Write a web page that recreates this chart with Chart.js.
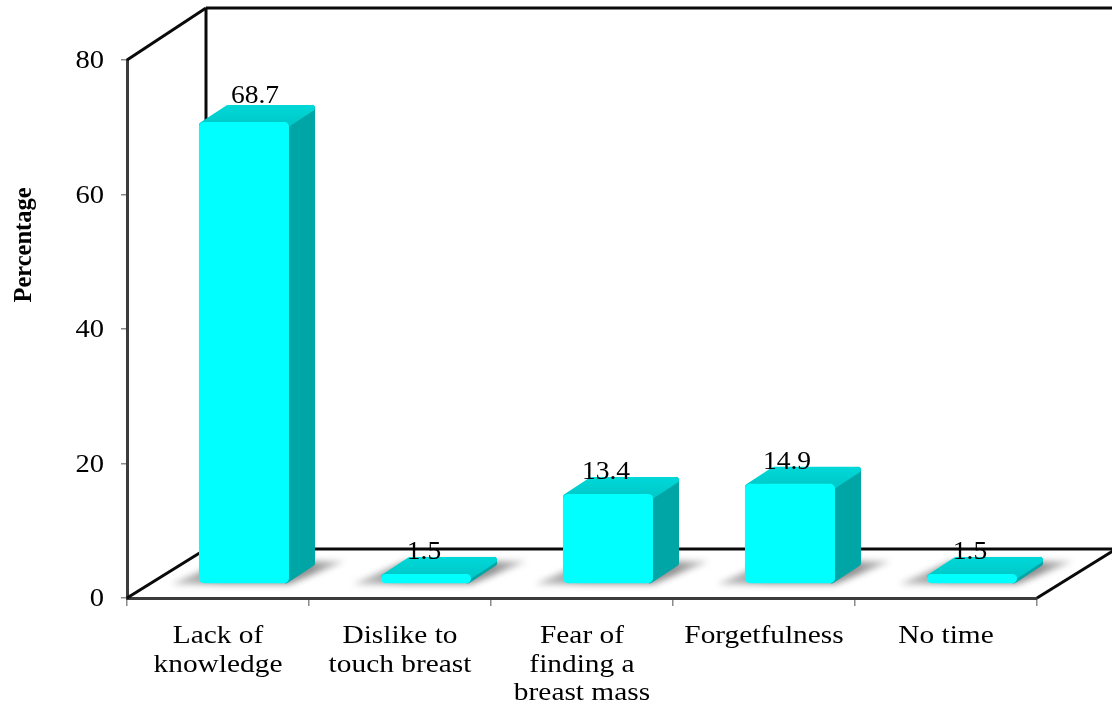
<!DOCTYPE html>
<html>
<head>
<meta charset="utf-8">
<title>Percentage by reason</title>
<script src="https://cdn.jsdelivr.net/npm/chart.js@4"></script>
<style>
  html, body { margin: 0; background: #fff; }
  canvas { display: block; }
</style>
</head>
<body>
<canvas id="chart" width="1112" height="704"></canvas>
<script>
const categories = [
  ["Lack of", "knowledge"],
  ["Dislike to", "touch breast"],
  ["Fear of", "finding a", "breast mass"],
  ["Forgetfulness"],
  ["No time"],
];
const percentages = [68.7, 1.5, 13.4, 14.9, 1.5];
const yTicks = [0, 20, 40, 60, 80];
const yTitle = "Percentage";

const FONT = '"Liberation Serif", serif';
const TEXT_STRETCH = 1.13; // text runs a little wide in this chart
// value labels sit slightly off centre
const LABEL_SHIFT_X = [11, -2, -2, -3, -2];
const LABEL_SHIFT_Y = [-4, 0, 0, 0, 0];

// box depth of the 3D room and of the bars
const WALL_DX = 79;
const WALL_DY_TOP = 52;
const WALL_DY_FLOOR = 49;
const BAR_DX = 26;
const BAR_DY = 17;
// bars stand on the floor, in front of the back wall
const BAR_OFFSET_X = 26;
const BAR_OFFSET_Y = -14;

function wideText(ctx, text, x, y, align, stretch = TEXT_STRETCH) {
  ctx.save();
  ctx.translate(x, y);
  ctx.scale(stretch, 1);
  ctx.textAlign = align;
  ctx.fillText(text, 0, 0);
  ctx.restore();
}

function line(ctx, x1, y1, x2, y2) {
  ctx.beginPath();
  ctx.moveTo(x1, y1);
  ctx.lineTo(x2, y2);
  ctx.stroke();
}

function poly(ctx, pts) {
  ctx.beginPath();
  pts.forEach((p, i) => (i ? ctx.lineTo(p[0], p[1]) : ctx.moveTo(p[0], p[1])));
  ctx.closePath();
}

const roomPlugin = {
  id: "room",
  beforeDatasetsDraw(chart) {
    const { ctx, chartArea: a } = chart;
    const backX = a.left + WALL_DX;
    const backTop = a.top - WALL_DY_TOP;
    const backFloor = a.bottom - WALL_DY_FLOOR;

    ctx.save();
    ctx.strokeStyle = "#0a0a0a";
    ctx.lineWidth = 3;
    line(ctx, a.left, a.top, backX, backTop);
    line(ctx, backX, backTop, a.right + WALL_DX, backTop);
    line(ctx, backX, backTop, backX, backFloor);
    line(ctx, backX, backFloor, a.right + WALL_DX, backFloor);
    line(ctx, a.left, a.bottom, backX, backFloor);
    line(ctx, a.right, a.bottom, a.right + WALL_DX, backFloor);
    ctx.restore();
  },
};

const bar3dPlugin = {
  id: "bar3d",
  beforeDatasetsDraw(chart) {
    const { ctx } = chart;
    const bars = chart.getDatasetMeta(0).data;

    ctx.save();
    ctx.translate(BAR_OFFSET_X, BAR_OFFSET_Y);

    // floor shadows, darkest next to the bar
    ctx.save();
    ctx.filter = "blur(3px)";
    bars.forEach((bar) => {
      const x0 = bar.x - bar.width / 2;
      const x1 = bar.x + bar.width / 2;
      const grad = ctx.createLinearGradient(x0 - 28, 0, x1 + 56, 0);
      grad.addColorStop(0, "#c8c8c8");
      grad.addColorStop(0.3, "#929292");
      grad.addColorStop(0.8, "#929292");
      grad.addColorStop(1, "#d0d0d0");
      ctx.fillStyle = grad;
      poly(ctx, [
        [x0 - 28, bar.base + 1],
        [x1, bar.base + 1],
        [x1 + 56, bar.base - 22],
        [x0 + 24, bar.base - 22],
      ]);
      ctx.fill();
    });
    ctx.restore();

    ctx.lineJoin = "round";
    ctx.lineWidth = 6;
    bars.forEach((bar) => {
      const x0 = bar.x - bar.width / 2 + 3;
      const x1 = bar.x + bar.width / 2 - 3;
      const top = bar.y + 3;
      const base = bar.base - 3;

      // right face
      poly(ctx, [
        [x1, top],
        [x1 + BAR_DX, top - BAR_DY],
        [x1 + BAR_DX, base - BAR_DY],
        [x1, base],
      ]);
      ctx.fillStyle = ctx.strokeStyle = "#00a6a6";
      ctx.stroke();
      ctx.fill();

      // top face
      const grad = ctx.createLinearGradient(0, top - BAR_DY - 3, 0, top);
      grad.addColorStop(0, "#00d8d8");
      grad.addColorStop(1, "#00c8c8");
      poly(ctx, [
        [x0, top],
        [x0 + BAR_DX, top - BAR_DY],
        [x1 + BAR_DX, top - BAR_DY],
        [x1, top],
      ]);
      ctx.fillStyle = ctx.strokeStyle = grad;
      ctx.stroke();
      ctx.fill();
    });
    ctx.restore();

    // front faces come from the library, shifted the same way
    ctx.save();
    ctx.translate(BAR_OFFSET_X, BAR_OFFSET_Y);
  },
  afterDatasetsDraw(chart) {
    chart.ctx.restore();
  },
};

const textPlugin = {
  id: "chartText",
  afterDraw(chart) {
    const { ctx, scales } = chart;
    ctx.save();
    ctx.fillStyle = "#000";
    ctx.textBaseline = "alphabetic";
    ctx.font = "26px " + FONT;

    yTicks.forEach((t) => {
      wideText(ctx, String(t), 104, scales.y.getPixelForValue(t) + 8, "right", 1.1);
    });

    categories.forEach((lines, i) => {
      const cx = scales.x.getPixelForTick(i);
      lines.forEach((s, k) => wideText(ctx, s, cx, 643 + k * 28.5, "center"));
    });

    chart.getDatasetMeta(0).data.forEach((bar, i) => {
      wideText(
        ctx,
        percentages[i].toFixed(1),
        bar.x + BAR_OFFSET_X + LABEL_SHIFT_X[i],
        bar.y + BAR_OFFSET_Y - 15 + LABEL_SHIFT_Y[i],
        "center",
        1.06
      );
    });

    ctx.save();
    ctx.translate(31, 245);
    ctx.rotate(-Math.PI / 2);
    ctx.font = "bold 25px " + FONT;
    wideText(ctx, yTitle, 0, 0, "center", 0.98);
    ctx.restore();

    ctx.restore();
  },
};

new Chart(document.getElementById("chart"), {
  type: "bar",
  data: {
    labels: categories,
    datasets: [
      {
        data: percentages,
        backgroundColor: "#00ffff",
        borderRadius: 5,
        borderSkipped: false,
        categoryPercentage: 1,
        barPercentage: 0.495,
        clip: false,
      },
    ],
  },
  options: {
    responsive: false,
    animation: false,
    layout: { padding: { left: 67, top: 60, right: 75, bottom: 0 } },
    plugins: { legend: { display: false }, tooltip: { enabled: false } },
    scales: {
      x: {
        offset: true,
        afterFit: (scale) => { scale.height = 106; },
        ticks: { display: false },
        grid: { drawOnChartArea: false, drawTicks: true, tickLength: 8, color: "#8a8a8a", lineWidth: 1.5 },
        border: { color: "#3c3c3c", width: 3 },
      },
      y: {
        min: 0,
        max: 80,
        afterFit: (scale) => { scale.width = 60; },
        afterBuildTicks: (scale) => { scale.ticks = yTicks.map((value) => ({ value })); },
        ticks: { display: false },
        grid: { drawOnChartArea: false, drawTicks: true, tickLength: 6, color: "#8a8a8a", lineWidth: 1.5 },
        border: { color: "#3c3c3c", width: 3 },
      },
    },
  },
  plugins: [roomPlugin, bar3dPlugin, textPlugin],
});
</script>
</body>
</html>
